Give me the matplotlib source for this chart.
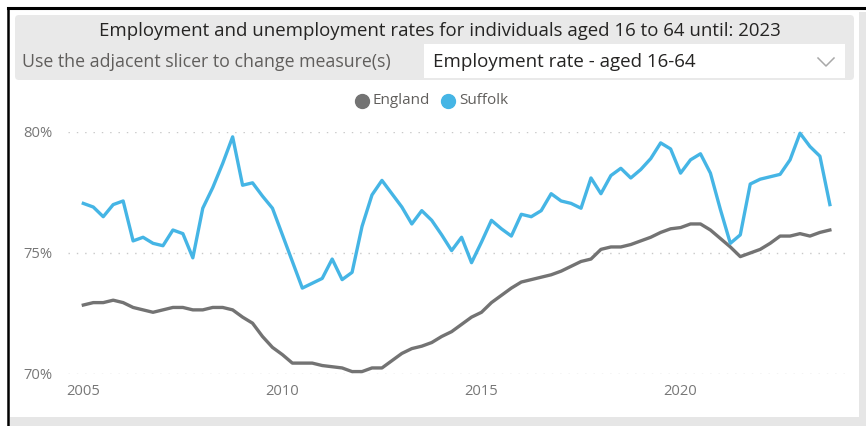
import numpy as np
import matplotlib.pyplot as plt
from matplotlib.patches import FancyBboxPatch, Rectangle
from matplotlib.lines import Line2D

plt.rcParams['font.family'] = ['Open Sans', 'DejaVu Sans']

W, H = 866, 426

# quarterly rolling rates, 2005 Q1 to 2023 Q4
england = [72.85, 72.95, 72.95, 73.05, 72.95, 72.75, 72.65, 72.55, 72.65, 72.75, 72.75, 72.65, 72.65,
           72.75, 72.75, 72.65, 72.35, 72.1, 71.55, 71.1, 70.8, 70.45, 70.45, 70.45, 70.35, 70.3,
           70.25, 70.1, 70.1, 70.25, 70.25, 70.55, 70.85, 71.05, 71.15, 71.3, 71.55, 71.75,
           72.05, 72.35, 72.55, 72.95, 73.25, 73.55, 73.8, 73.9, 74.0, 74.1, 74.25, 74.45, 74.65,
           74.75, 75.15, 75.25, 75.25, 75.35, 75.5, 75.65, 75.85, 76.0, 76.05, 76.2, 76.2,
           75.95, 75.6, 75.25, 74.85, 75.0, 75.15, 75.4, 75.7, 75.7, 75.8, 75.7, 75.85, 75.95]
suffolk = [77.05, 76.9, 76.5, 77.0, 77.15, 75.5, 75.65, 75.4, 75.3, 75.95, 75.8, 74.8, 76.85,
           77.7, 78.7, 79.8, 77.8, 77.9, 77.35, 76.85, 75.75, 74.65, 73.55, 73.75, 73.95, 74.75,
           73.9, 74.2, 76.1, 77.4, 78.0, 77.45, 76.9, 76.2, 76.75, 76.35, 75.75, 75.1,
           75.65, 74.6, 75.45, 76.35, 76.0, 75.7, 76.6, 76.5, 76.75, 77.45, 77.15, 77.05, 76.85,
           78.1, 77.45, 78.2, 78.5, 78.1, 78.45, 78.9, 79.55, 79.3, 78.3, 78.85, 79.1,
           78.3, 76.8, 75.4, 75.75, 77.85, 78.05, 78.15, 78.25, 78.85, 79.95, 79.4, 79.0, 77.0]
periods = 2005 + np.arange(len(england)) / 4

year_ticks = [2005, 2010, 2015, 2020]
rate_ticks = [70, 75, 80]

title = "Employment and unemployment rates for individuals aged 16 to 64 until: 2023"
slicer_hint = "Use the adjacent slicer to change measure(s)"
measure = "Employment rate - aged 16-64"

ENG_COL = '#737373'
SUF_COL = '#45b5e5'

fig = plt.figure(figsize=(W / 100, H / 100), dpi=100)

# background layer in pixel coordinates
bg = fig.add_axes([0, 0, 1, 1])
bg.set_xlim(0, W)
bg.set_ylim(H, 0)
bg.axis('off')

bg.add_patch(Rectangle((859, 12), 7, 414, fc='#e6e6e6', ec='none'))
bg.add_patch(Rectangle((10, 417), 856, 9, fc='#e6e6e6', ec='none'))
bg.add_patch(FancyBboxPatch((12, 12), 844, 403, boxstyle='round,pad=0,rounding_size=6',
                            fc='white', ec='none'))
bg.add_line(Line2D([8, W], [8, 8], color='black', lw=2.2))
bg.add_line(Line2D([8, 8], [8, H], color='black', lw=1.8))

# header with slicer
bg.add_patch(FancyBboxPatch((15, 15), 839, 65, boxstyle='round,pad=0,rounding_size=4',
                            fc='#e9e9e9', ec='none'))
bg.add_patch(Rectangle((424, 44), 421, 34, fc='white', ec='none'))
bg.add_line(Line2D([818, 826, 834], [58, 66, 58], color='#a8a8a8', lw=1.1))

bg.text(440, 31, title, ha='center', va='center', fontsize=13.4, color='#252423')
bg.text(22, 62, slicer_hint, ha='left', va='center', fontsize=12.8, color='#605e5c')
bg.text(433, 62, measure, ha='left', va='center', fontsize=13.5, color='#252423')

# legend
bg.plot([362], [101], 'o', ms=10, color=ENG_COL)
bg.text(373, 101, "England", ha='left', va='center', fontsize=11, color='#605e5c')
bg.plot([448], [101], 'o', ms=10, color=SUF_COL)
bg.text(459, 101, "Suffolk", ha='left', va='center', fontsize=11, color='#605e5c')

# line chart
ax = fig.add_axes([68 / W, 1 - 374 / H, (845 - 68) / W, (374 - 132) / H])
ax.patch.set_alpha(0)
for s in ax.spines.values():
    s.set_visible(False)

ax.plot(periods, england, color=ENG_COL, lw=2.4, clip_on=False)
ax.plot(periods, suffolk, color=SUF_COL, lw=2.4, clip_on=False)

ax.set_xlim(2004.615, 2024.13)
ax.set_ylim(70, 80)
ax.set_xticks(year_ticks)
ax.set_yticks(rate_ticks)
ax.set_yticklabels([f"{v}%" for v in rate_ticks])
ax.grid(axis='y', color='#c8c8c8', lw=1, linestyle=(0, (1, 5)))
ax.grid(axis='x', visible=False)
ax.set_axisbelow(True)
ax.tick_params(length=0, labelsize=10.6, labelcolor='#777777')
ax.tick_params(axis='y', pad=11)
ax.tick_params(axis='x', pad=7)

fig.savefig('out.png', dpi=100)
